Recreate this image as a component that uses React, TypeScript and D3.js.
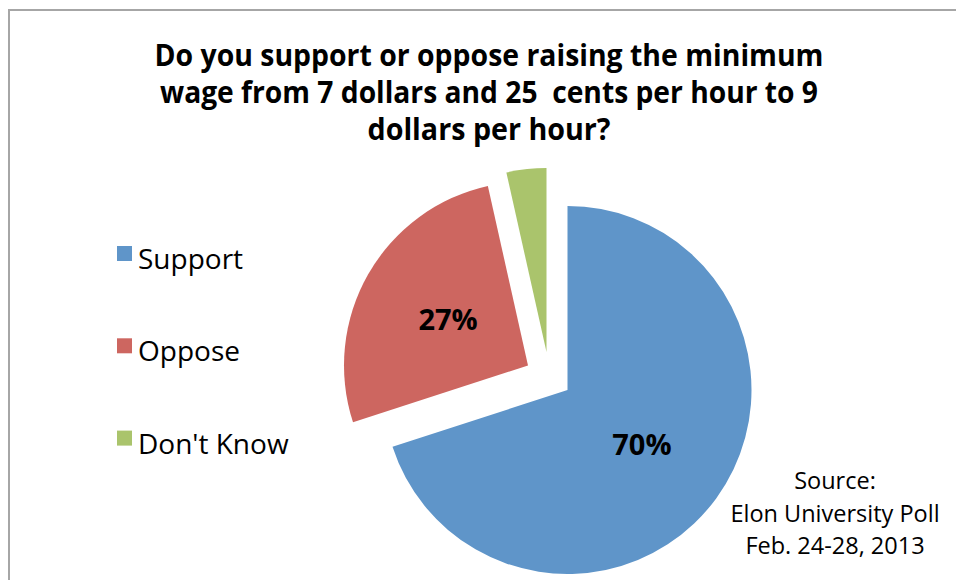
import React from "react";
import * as d3 from "d3";

const categories = ["Support", "Oppose", "Don't Know"];
const values = [70, 26.5, 3.5];
const sliceLabels = ["70%", "27%", ""];
const titleLines = [
  "Do you support or oppose raising the minimum",
  "wage from 7 dollars and 25  cents per hour to 9",
  "dollars per hour?",
];
const sourceLines = ["Source:", "Elon University Poll", "Feb. 24-28, 2013"];

const colors = ["#5F95C9", "#CD6660", "#AAC46C"];
const offsets: [number, number][] = [
  [0, 0],
  [-39.5, -24.5],
  [-21, -38],
];

export default function App() {
  const W = 956;
  const H = 580;
  const cx = 567.5;
  const cy = 390;
  const R = 184;

  const pie = d3
    .pie<number>()
    .sort(null)
    .value((d) => d)
    .startAngle(0)
    .endAngle(2 * Math.PI);
  const arcs = pie(values);
  const arc = d3.arc<d3.PieArcDatum<number>>().innerRadius(0).outerRadius(R);

  const font = "'Open Sans', 'Noto Sans', sans-serif";

  return (
    <svg
      width={W}
      height={H}
      style={{ position: "absolute", left: 0, top: 0, background: "#fff" }}
    >
      <rect x={0} y={0} width={W} height={H} fill="#fff" />
      <rect
        x={9}
        y={10}
        width={W + 20}
        height={H + 20}
        fill="none"
        stroke="#A6A6A6"
        strokeWidth={2}
      />
      {titleLines.map((t, i) => (
        <text
          key={i}
          x={489}
          y={66 + i * 37}
          textAnchor="middle"
          fontFamily={font}
          fontWeight={700}
          fontSize={30}
          fill="#000"
          style={{ whiteSpace: "pre" }}
          textLength={[669, 658, 243][i]}
          lengthAdjust="spacingAndGlyphs"
        >
          {t}
        </text>
      ))}
      {arcs.map((a, i) => (
        <g
          key={i}
          transform={`translate(${cx + offsets[i][0]},${cy + offsets[i][1]})`}
        >
          <path d={arc(a) || ""} fill={colors[i]} />
          {sliceLabels[i] && (
            <text
              x={arc.centroid(a)[0]}
              y={arc.centroid(a)[1]}
              dy="0.36em"
              textAnchor="middle"
              fontFamily={font}
              fontWeight={700}
              fontSize={29}
              fill="#000"
            >
              {sliceLabels[i]}
            </text>
          )}
        </g>
      ))}
      {categories.map((c, i) => (
        <g key={c} transform={`translate(117,${246 + i * 92.3})`}>
          <rect x={0} y={0} width={15} height={15} fill={colors[i]} />
          <text
            x={21}
            y={23}
            fontFamily={font}
            fontSize={28}
            fill="#000"
          >
            {c}
          </text>
        </g>
      ))}
      {sourceLines.map((s, i) => (
        <text
          key={i}
          x={835}
          y={489 + i * 32.5}
          textAnchor="middle"
          fontFamily={font}
          fontSize={23.5}
          fill="#000"
        >
          {s}
        </text>
      ))}
    </svg>
  );
}
